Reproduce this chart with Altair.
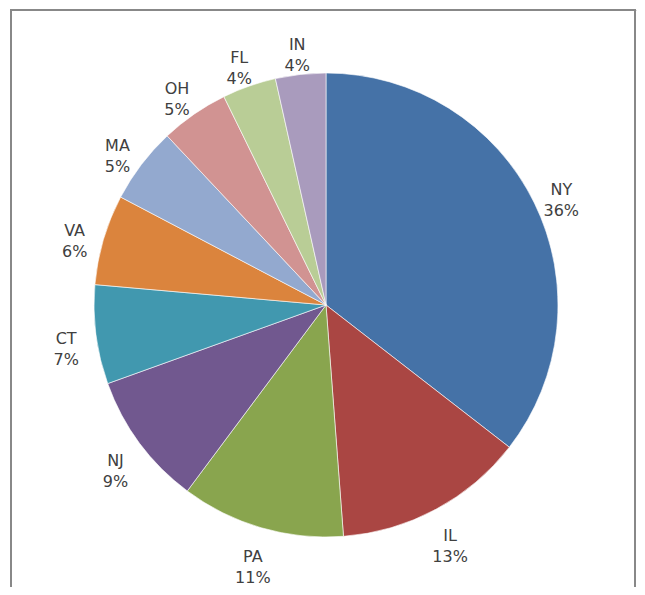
import altair as alt
import pandas as pd

states = ["NY", "IL", "PA", "NJ", "CT", "VA", "MA", "OH", "FL", "IN"]
shares = [35.5, 13.3, 11.4, 9.3, 6.9, 6.3, 5.3, 4.75, 3.75, 3.5]
labels = ["36%", "13%", "11%", "9%", "7%", "6%", "5%", "5%", "4%", "4%"]
colors = ["#4572A7", "#AA4643", "#89A54E", "#71588F", "#4198AF",
          "#DB843D", "#93A9CF", "#D19392", "#B9CD96", "#A99BBD"]

df = pd.DataFrame({
    "state": states,
    "share": shares,
    "idx": list(range(len(states))),
    "label": [s + "\n" + p for s, p in zip(states, labels)],
})

base = alt.Chart(df).encode(
    theta=alt.Theta("share:Q", stack=True),
    order=alt.Order("idx:Q", sort="ascending"),
    x=alt.value(315),
    y=alt.value(295),
)

pie = base.mark_arc(radius=232, stroke="white", strokeWidth=0.6).encode(
    color=alt.Color("state:N", scale=alt.Scale(domain=states, range=colors), legend=None),
)

text = base.mark_text(radius=262, lineBreak="\n", font="DejaVu Sans", fontSize=16,
                      color="#404040", align="center", baseline="middle", lineHeight=21).encode(
    text="label:N",
)

frame = alt.Chart(pd.DataFrame({"k": [0]})).mark_rect(
    fill=None, stroke="#888888", strokeWidth=2
).encode(
    x=alt.value(0), x2=alt.value(624), y=alt.value(0), y2=alt.value(600)
)

chart = (frame + pie + text).properties(
    width=626, height=577,
    padding={"left": 3, "top": 2, "right": 0, "bottom": 0},
    autosize=alt.AutoSizeParams(type="none"),
).configure_view(strokeWidth=0).configure(background="white")

chart.save("out.html", embed_options={"renderer": "svg", "actions": False})
